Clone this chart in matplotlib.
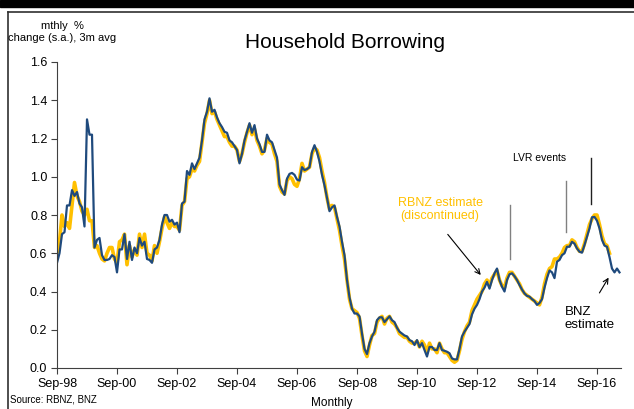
import matplotlib.pyplot as plt
from matplotlib.lines import Line2D

plt.rcParams.update({
    "font.family": ["Liberation Sans", "DejaVu Sans"],
    "font.size": 9,
})

# months counted from Sep-98
tick_pos = [0, 24, 48, 72, 96, 120, 144, 168, 192, 216]
tick_labels = ["Sep-98", "Sep-00", "Sep-02", "Sep-04", "Sep-06",
               "Sep-08", "Sep-10", "Sep-12", "Sep-14", "Sep-16"]

# BNZ estimate, monthly % change (s.a.), 3m avg
bnz = [0.55, 0.60, 0.70, 0.71, 0.85, 0.85, 0.93, 0.90, 0.92, 0.86,
       0.84, 0.74, 1.30, 1.22, 1.22, 0.63, 0.67, 0.68, 0.59, 0.565,
       0.565, 0.57, 0.59, 0.58, 0.50, 0.62, 0.62, 0.70, 0.57, 0.66,
       0.565, 0.63, 0.60, 0.68, 0.64, 0.66, 0.57, 0.565, 0.55, 0.62,
       0.63, 0.67, 0.75, 0.80, 0.80, 0.765, 0.775, 0.75, 0.76, 0.71,
       0.86, 0.87, 1.03, 1.01, 1.07, 1.04, 1.07, 1.10, 1.19, 1.30,
       1.34, 1.41, 1.34, 1.35, 1.31, 1.28, 1.26, 1.235, 1.23, 1.19,
       1.18, 1.16, 1.14, 1.07, 1.12, 1.19, 1.235, 1.28, 1.23, 1.27,
       1.20, 1.17, 1.13, 1.13, 1.22, 1.19, 1.18, 1.14, 1.10, 0.96,
       0.93, 0.905, 0.99, 1.015, 1.02, 1.01, 0.985, 0.98, 1.05, 1.035,
       1.04, 1.05, 1.13, 1.165, 1.13, 1.08, 1.01, 0.955, 0.89, 0.82,
       0.84, 0.85, 0.79, 0.74, 0.66, 0.59, 0.46, 0.37, 0.31, 0.285,
       0.285, 0.27, 0.18, 0.10, 0.073, 0.13, 0.165, 0.19, 0.25, 0.265,
       0.265, 0.24, 0.255, 0.27, 0.25, 0.24, 0.21, 0.19, 0.18, 0.17,
       0.165, 0.146, 0.14, 0.12, 0.146, 0.11, 0.13, 0.094, 0.06, 0.11,
       0.11, 0.094, 0.094, 0.13, 0.094, 0.09, 0.085, 0.077, 0.05, 0.045,
       0.045, 0.10, 0.165, 0.19, 0.21, 0.23, 0.28, 0.31, 0.33, 0.36,
       0.40, 0.42, 0.45, 0.415, 0.46, 0.495, 0.52, 0.46, 0.425, 0.40,
       0.46, 0.49, 0.495, 0.48, 0.46, 0.434, 0.41, 0.39, 0.377, 0.373,
       0.36, 0.35, 0.33, 0.34, 0.36, 0.42, 0.47, 0.51, 0.50, 0.47,
       0.556, 0.565, 0.59, 0.60, 0.634, 0.634, 0.66, 0.65, 0.625, 0.608,
       0.603, 0.643, 0.687, 0.73, 0.788, 0.79, 0.77, 0.73, 0.67, 0.64,
       0.634, 0.58, 0.52, 0.50, 0.52, 0.50]

# RBNZ estimate (discontinued)
rbnz = [0.60, 0.66, 0.80, 0.74, 0.76, 0.73, 0.85, 0.97, 0.90, 0.87,
        0.82, 0.80, 0.83, 0.77, 0.77, 0.63, 0.64, 0.60, 0.57, 0.56,
        0.60, 0.63, 0.63, 0.57, 0.55, 0.66, 0.67, 0.70, 0.54, 0.64,
        0.58, 0.62, 0.59, 0.70, 0.63, 0.70, 0.60, 0.59, 0.56, 0.64,
        0.60, 0.66, 0.73, 0.79, 0.76, 0.73, 0.76, 0.74, 0.74, 0.72,
        0.85, 0.87, 0.99, 1.00, 1.04, 1.03, 1.06, 1.08, 1.18, 1.28,
        1.33, 1.40, 1.33, 1.34, 1.30, 1.27, 1.24, 1.21, 1.21, 1.18,
        1.16, 1.16, 1.14, 1.08, 1.12, 1.18, 1.23, 1.27, 1.22, 1.25,
        1.19, 1.16, 1.12, 1.14, 1.20, 1.18, 1.17, 1.12, 1.08, 0.95,
        0.92, 0.91, 0.98, 1.00, 0.99, 0.96, 0.95, 0.99, 1.07, 1.03,
        1.04, 1.05, 1.12, 1.15, 1.14, 1.10, 1.03, 0.97, 0.89, 0.83,
        0.85, 0.84, 0.78, 0.72, 0.64, 0.57, 0.46, 0.36, 0.31, 0.30,
        0.29, 0.26, 0.17, 0.09, 0.06, 0.12, 0.17, 0.18, 0.24, 0.26,
        0.27, 0.23, 0.26, 0.27, 0.24, 0.23, 0.21, 0.18, 0.17, 0.16,
        0.16, 0.14, 0.13, 0.13, 0.14, 0.11, 0.14, 0.12, 0.08, 0.13,
        0.10, 0.10, 0.08, 0.13, 0.10, 0.08, 0.08, 0.06, 0.04, 0.03,
        0.04, 0.09, 0.15, 0.19, 0.22, 0.24, 0.30, 0.33, 0.36, 0.38,
        0.40, 0.44, 0.46, 0.43, 0.47, 0.49, 0.51, 0.46, 0.43, 0.42,
        0.47, 0.50, 0.50, 0.48, 0.46, 0.44, 0.41, 0.39, 0.38, 0.37,
        0.36, 0.35, 0.34, 0.33, 0.37, 0.44, 0.49, 0.52, 0.53, 0.57,
        0.57, 0.58, 0.60, 0.63, 0.64, 0.64, 0.67, 0.66, 0.63, 0.61,
        0.61, 0.65, 0.70, 0.75, 0.78, 0.80, 0.80, 0.75, 0.69, 0.65,
        0.64, 0.60]

# LVR events: month, line bottom, line top, colour
lvr_months = [181, 203.5, 213.5]
lvr_lo = [0.57, 0.71, 0.86]
lvr_hi = [0.85, 0.98, 1.10]
lvr_cols = ["#808080", "#808080", "#202020"]

NAVY = "#1f4a7d"
GOLD = "#ffc000"

fig = plt.figure(figsize=(6.34, 4.09), dpi=100)
ax = fig.add_axes([57 / 634, 1 - 368 / 409, 564 / 634, 306 / 409])

ax.plot(range(len(rbnz)), rbnz, color=GOLD, lw=2.6, solid_joinstyle="round")
ax.plot(range(len(bnz)), bnz, color=NAVY, lw=1.6, solid_joinstyle="round")

for m, lo, hi, c in zip(lvr_months, lvr_lo, lvr_hi, lvr_cols):
    ax.plot([m, m], [lo, hi], color=c, lw=1.0)

ax.set_xlim(0, 225.6)
ax.set_ylim(0, 1.6)
ax.set_xticks(tick_pos)
ax.set_xticklabels(tick_labels)
ax.set_yticks([0.0, 0.2, 0.4, 0.6, 0.8, 1.0, 1.2, 1.4, 1.6])
ax.set_yticklabels(["0.0", "0.2", "0.4", "0.6", "0.8", "1.0", "1.2", "1.4", "1.6"])
ax.tick_params(axis="both", direction="out", length=4, width=0.8,
               color="#404040", labelsize=9, pad=3)

for s in ["top", "right"]:
    ax.spines[s].set_visible(False)
for s in ["left", "bottom"]:
    ax.spines[s].set_color("#404040")
    ax.spines[s].set_linewidth(0.8)

ax.text(153.2, 0.83, "RBNZ estimate\n(discontinued)", color=GOLD,
        fontsize=9, ha="center", va="center", linespacing=1.15)
ax.annotate("", xy=(170.2, 0.475), xytext=(155.6, 0.71),
            arrowprops=dict(arrowstyle="->", color="black", lw=0.8))

ax.text(193, 1.10, "LVR events", fontsize=7.5, ha="center", va="center")

ax.text(203, 0.26, "BNZ\nestimate", fontsize=9.5, ha="left", va="center",
        linespacing=1.1)
ax.annotate("", xy=(221.2, 0.485), xytext=(216.4, 0.38),
            arrowprops=dict(arrowstyle="->", color="black", lw=0.8))

# header band and frame
fig.patches.append(plt.Rectangle((0, 1 - 7 / 409), 1, 7 / 409,
                                 transform=fig.transFigure, color="black"))
fig.lines.append(Line2D([8 / 634, 1], [1 - 12 / 409, 1 - 12 / 409],
                        transform=fig.transFigure, color="#303030", lw=1.2))
fig.lines.append(Line2D([8 / 634, 8 / 634], [0, 1 - 12 / 409],
                        transform=fig.transFigure, color="#303030", lw=1.2))

fig.text(345 / 634, 1 - 42 / 409, "Household Borrowing", fontsize=15,
         ha="center", va="center")
fig.text(62 / 634, 1 - 32 / 409, "mthly  %\nchange (s.a.), 3m avg",
         fontsize=8, ha="center", va="center", linespacing=1.15)
fig.text(10 / 634, 1 - 400 / 409, "Source: RBNZ, BNZ", fontsize=7,
         ha="left", va="center")
fig.text(332 / 634, 1 - 403 / 409, "Monthly", fontsize=8.5,
         ha="center", va="center")

fig.savefig("out.png", dpi=100)
